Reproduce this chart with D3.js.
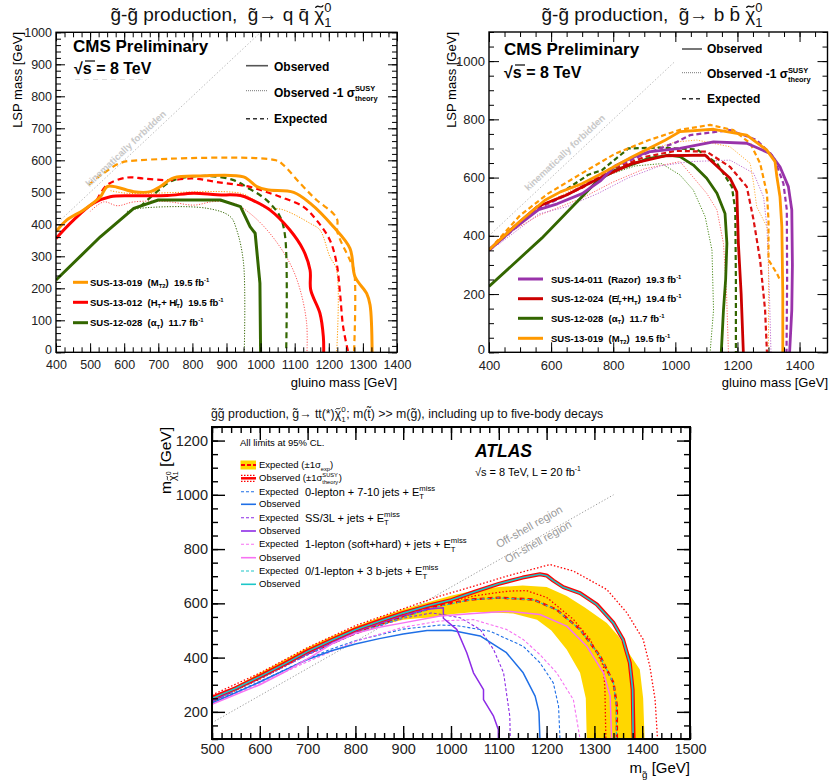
<!DOCTYPE html>
<html><head><meta charset="utf-8">
<script src="https://cdn.jsdelivr.net/npm/d3@7"></script>
<style>
body{margin:0;background:#fff}
svg{display:block}
text{font-family:"Liberation Sans",Arial,Helvetica,sans-serif;white-space:pre}
</style>
</head><body>
<svg id="c" width="830" height="784"></svg>
<script>
// ================= DATA =================
// Panel A: gluino -> q qbar chi
const aXTicks = [400,500,600,700,800,900,1000,1100,1200,1300,1400];
const aYTicks = [0,100,200,300,400,500,600,700,800,900,1000];
const aOrangeObs = [[400,377],[432,414],[481,445],[530,486],[550,518],[579,516],[628,502],[677,502],[706,518],[745,545],[823,551],[950,548],[989,518],[1019,508],[1097,500],[1145,466],[1213,393],[1262,325],[1277,236],[1311,184],[1321,148],[1327,0]];
const aOrangeExp = [[495,523],[540,560],[590,592],[640,600],[1045,600],[1067,585],[1116,528],[1164,476],[1213,434],[1225,413],[1225,377],[1262,288],[1274,257],[1274,0]];
const aOrangeM1 = [[560,505],[608,497],[941,497],[980,476],[1008,455],[1067,445],[1145,403],[1174,382],[1203,299],[1223,257],[1223,0]];
const aRedObs = [[400,356],[452,414],[510,466],[559,486],[628,489],[726,490],[804,497],[872,492],[941,490],[975,476],[1027,445],[1086,382],[1125,320],[1145,257],[1147,195],[1174,122],[1184,49],[1185,0]];
const aRedExp = [[520,476],[550,523],[608,546],[657,543],[726,538],[804,543],[872,532],[941,522],[969,517],[1057,486],[1125,455],[1164,413],[1203,351],[1223,278],[1233,184],[1242,80],[1257,0]];
const aRedM1 = [[500,440],[540,470],[580,458],[628,470],[726,471],[804,460],[862,471],[921,466],[969,434],[1027,372],[1086,278],[1116,195],[1135,91],[1136,0]];
const aGreenObs = [[400,226],[530,361],[628,450],[700,476],[882,476],[941,455],[969,393],[984,372],[998,216],[1000,0]];
const aGreenExp = [[647,455],[696,502],[745,538],[843,551],[921,538],[969,510],[1000,490],[1027,466],[1057,424],[1072,361],[1075,0]];
const aGreenM1 = [[608,440],[647,450],[843,450],[911,424],[930,382],[950,278],[952,0]];
const aDiag = [[400,400],[1000,1000]];
const aLegend = ["SUS-13-019  (M","SUS-13-012  (H","SUS-12-028  ("];

// Panel B: gluino -> b bbar chi
const bXTicks = [400,600,800,1000,1200,1400];
const bYTicks = [0,200,400,600,800,1000];
const bPurpleObs = [[400,350],[480,425],[560,490],[620,510],[700,545],[760,590],[806,640],[860,668],[913,688],[1015,700],[1123,723],[1230,718],[1305,683],[1337,637],[1364,569],[1375,489],[1377,300],[1375,145],[1368,0]];
const bPurpleExp = [[400,350],[560,495],[650,540],[700,570],[800,635],[900,680],[1000,720],[1048,746],[1176,763],[1262,729],[1316,672],[1348,580],[1359,489],[1360,250],[1358,0]];
const bPurpleM1 = [[430,370],[560,475],[650,500],[750,545],[850,600],[950,640],[1050,655],[1176,660],[1252,615],[1284,534],[1295,431],[1303,200],[1308,0]];
const bRedObs = [[400,352],[480,430],[555,500],[650,540],[750,595],[860,648],[970,675],[1096,677],[1176,598],[1198,551],[1203,374],[1212,200],[1219,0]];
const bRedExp = [[400,352],[560,500],[700,565],[800,630],[900,670],[1000,692],[1101,689],[1176,637],[1230,569],[1252,454],[1273,317],[1289,145],[1295,0]];
const bRedM1 = [[480,420],[560,470],[700,530],[800,585],[900,630],[1015,655],[1101,546],[1134,489],[1155,374],[1165,200],[1171,0]];
const bGreenObs = [[400,226],[570,392],[750,590],[806,625],[913,665],[980,677],[1015,672],[1058,643],[1101,598],[1134,546],[1160,477],[1166,374],[1162,250],[1155,145],[1148,0]];
const bGreenExp = [[650,560],[720,610],[763,625],[849,700],[950,703],[1069,697],[1134,649],[1182,569],[1193,489],[1195,250],[1195,0]];
const bGreenM1 = [[760,600],[870,640],[956,648],[1015,609],[1058,557],[1096,466],[1118,351],[1123,145],[1112,0]];
const bOrangeObs = [[400,352],[500,450],[580,522],[630,551],[699,579],[763,614],[860,671],[967,728],[1015,758],[1123,766],[1230,746],[1294,695],[1321,655],[1327,603],[1337,534],[1343,431],[1346,200],[1346,0]];
const bOrangeExp = [[420,375],[500,470],[590,545],[698,614],[806,682],[913,728],[1015,764],[1112,781],[1187,763],[1241,718],[1273,649],[1295,546],[1300,454],[1300,317],[1327,271],[1337,248]];
const bOrangeM1 = [[560,500],[700,575],[800,640],[900,690],[1000,722],[1069,729],[1176,706],[1241,649],[1252,580],[1262,500],[1284,454],[1300,420],[1300,0]];
const bDiag = [[400,400],[1000,1000]];

// Panel C: ATLAS gluino -> t t chi
const cXTicks = [500,600,700,800,900,1000,1100,1200,1300,1400,1500];
const cYTicks = [200,400,600,800,1000,1200];
const cBandUpper = [[500,250],[550,295],[600,343],[650,390],[700,437],[750,478],[800,515],[850,548],[900,578],[950,603],[1000,628],[1050,648],[1100,660],[1150,666],[1200,660],[1242,627],[1280,585],[1326,528],[1350,480],[1367,430],[1395,356],[1402,250],[1405,100]];
const cBandLower = [[1284,100],[1282,250],[1270,344],[1242,430],[1210,500],[1180,540],[1130,563],[1050,568],[1000,560],[960,548],[930,545],[900,540],[850,518],[800,490],[750,455],[700,412],[650,370],[600,322],[550,278],[500,234]];
const cObs = [[500,252],[550,288],[600,331],[650,376],[700,424],[750,465],[800,504],[850,535],[900,565],[950,590],[1000,612],[1050,643],[1100,672],[1150,695],[1186,707],[1200,703],[1214,684],[1235,660],[1270,638],[1305,596],[1340,528],[1360,467],[1374,381],[1380,282],[1382,100]];
const cObsUp = [[500,262],[600,343],[700,437],[800,518],[900,580],[977,627],[1047,663],[1116,700],[1207,743],[1256,719],[1326,651],[1368,565],[1402,467],[1416,368],[1427,245],[1432,100]];
const cObsDn = [[500,242],[600,320],[700,412],[800,490],[900,550],[977,598],[1050,628],[1120,645],[1158,647],[1200,622],[1256,541],[1291,467],[1319,368],[1322,282],[1324,100]];
const cExp = [[500,240],[600,325],[700,415],[800,490],[900,553],[977,593],[1040,614],[1100,621],[1172,614],[1221,577],[1270,504],[1312,405],[1340,307],[1347,221],[1347,100]];
const cCyanObs = [[500,250],[550,287],[600,330],[650,375],[700,423],[750,464],[800,503],[850,534],[900,564],[950,590],[1000,612],[1050,643],[1100,672],[1150,695],[1186,707],[1200,702],[1214,684],[1235,659],[1270,637],[1305,595],[1340,527],[1360,466],[1374,380],[1380,282],[1381,100]];
const cCyanExp = [[500,238],[600,323],[700,413],[800,489],[900,548],[977,590],[1040,613],[1100,620],[1172,613],[1221,576],[1270,503],[1312,404],[1340,306],[1346,221],[1346,100]];
const cBlueObs = [[500,232],[600,310],[650,352],[700,393],[750,425],[800,450],[850,470],[900,487],[950,500],[1000,501],[1061,480],[1116,418],[1151,344],[1176,258],[1184,200],[1186,100]];
const cBlueExp = [[500,234],[600,312],[700,395],[750,432],[800,462],[900,505],[977,520],[1012,518],[1082,497],[1151,442],[1186,381],[1214,307],[1225,221],[1228,100]];
const cPurpleObs = [[500,240],[600,326],[700,416],[800,496],[900,556],[950,578],[984,584],[984,545],[1012,504],[1033,418],[1047,344],[1068,282],[1068,245],[1089,184],[1099,135],[1099,100]];
const cPurpleExp = [[500,238],[600,322],[700,410],[800,488],[900,545],[960,565],[1019,547],[1061,504],[1089,430],[1110,344],[1116,270],[1123,184],[1124,100]];
const cPinkObs = [[500,228],[600,300],[650,345],[700,395],[750,450],[800,490],[850,512],[900,528],[977,553],[1047,563],[1116,571],[1186,559],[1242,516],[1284,442],[1319,344],[1333,258],[1336,100]];
const cPinkExp = [[500,230],[600,305],[700,385],[800,460],[900,512],[977,535],[1047,540],[1116,504],[1151,467],[1186,411],[1221,344],[1256,245],[1270,100]];
const cDiag = [[500,160],[1340,1000]];
const cGroups = ["0-lepton + 7-10 jets + E","SS/3L + jets + E","1-lepton (soft+hard) + jets + E","0/1-lepton + 3 b-jets + E"];

// ================= HELPERS =================
const FONT = '"Liberation Sans", Arial, Helvetica, sans-serif';
const svg = d3.select('#c');
svg.append('rect').attr('width',830).attr('height',784).attr('fill','#fff');

function makePanel(id,o){
  const x = d3.scaleLinear().domain(o.xd).range(o.xr);
  const y = d3.scaleLinear().domain(o.yd).range(o.yr);
  const g = svg.append('g');
  const [L,R]=o.xr, [B,T]=o.yr;
  svg.append('clipPath').attr('id',id).append('rect').attr('x',L).attr('y',T).attr('width',R-L).attr('height',B-T);
  const plot = g.append('g').attr('clip-path',`url(#${id})`);
  return {x,y,g,plot,L,R,B,T,o};
}
function drawAxes(P){
  const {x,y,g,L,R,B,T,o}=P;
  const ax=g.append('g');
  const none=()=> '';
  const add=(axis,tr)=>{const s=ax.append('g').attr('transform',tr).call(axis);s.select('.domain').remove();
    s.selectAll('line').attr('stroke','#000').attr('stroke-width',o.tw);
    s.selectAll('text').attr('font-size',o.fs).attr('font-family',FONT).attr('fill','#222');return s;};
  add(d3.axisBottom(x).tickValues(o.xMaj).tickSize(-o.maj).tickPadding(o.xpad).tickFormat(d3.format('d')),`translate(0,${B})`);
  add(d3.axisBottom(x).tickValues(o.xMin).tickSize(-o.min).tickFormat(none),`translate(0,${B})`);
  add(d3.axisTop(x).tickValues(o.xMaj).tickSize(-o.maj).tickFormat(none),`translate(0,${T})`);
  add(d3.axisTop(x).tickValues(o.xMin).tickSize(-o.min).tickFormat(none),`translate(0,${T})`);
  const yl=add(d3.axisLeft(y).tickValues(o.yMaj).tickSize(-o.maj).tickPadding(o.ypad).tickFormat(d3.format('d')),`translate(${L},0)`);
  if(o.zeroDy!=null) yl.selectAll('.tick').filter(d=>d===0).select('text').attr('dy',o.zeroDy);
  add(d3.axisLeft(y).tickValues(o.yMin).tickSize(-o.min).tickFormat(none),`translate(${L},0)`);
  add(d3.axisRight(y).tickValues(o.yMaj).tickSize(-o.maj).tickFormat(none),`translate(${R},0)`);
  add(d3.axisRight(y).tickValues(o.yMin).tickSize(-o.min).tickFormat(none),`translate(${R},0)`);
  g.append('rect').attr('x',L).attr('y',T).attr('width',R-L).attr('height',B-T).attr('fill','none').attr('stroke','#000').attr('stroke-width',o.fw);
}
function curve(P,data,color,width,dash,smooth){
  const line=d3.line().x(d=>P.x(d[0])).y(d=>P.y(d[1])).curve(smooth?d3.curveCatmullRom.alpha(0.5):d3.curveLinear);
  const p=P.plot.append('path').datum(data).attr('d',line).attr('fill','none').attr('stroke',color)
    .attr('stroke-width',width).attr('stroke-linejoin','round');
  if(dash) p.attr('stroke-dasharray',dash);
  return p;
}
// rich text. parts: string (normal) or {t, s:scale, b:baseline offset (em, +down), tl:tilde, stack:[sup,sub], up, dn}
const SUP = t=>({t,s:0.62,b:-0.42});
const SUB = t=>({t,s:0.62,b:0.28});
function rich(g,x,y,parts,size,attrs){
  const t=g.append('text').attr('x',x).attr('y',y).attr('font-size',size);
  if(attrs) Object.entries(attrs).forEach(([k,v])=>t.attr(k,v));
  let cur=0,pend=0;const tildes=[];
  const put=(s,sz,b)=>{const ts=t.append('tspan').attr('font-size',sz).attr('dy',b-cur).text(s);if(pend)ts.attr('dx',pend);pend=0;cur=b;return ts;};
  parts.forEach(p=>{
    if(typeof p==='string'){put(p,size,0);return;}
    const sz=size*(p.s||1), b=size*(p.b||0);
    if(p.stack){
      const a=put(p.stack[0],sz,b+size*(p.up!=null?p.up:-0.45));
      const w1=a.node().getComputedTextLength();
      const c=put(p.stack[1],sz,b+size*(p.dn!=null?p.dn:0.32));
      c.attr('dx',-w1);
      const w2=c.node().getComputedTextLength();
      pend=Math.max(0,w1-w2)+0.5;
    } else {
      const a=put(p.t,sz,b);
      if(p.tl) tildes.push([a,sz]);
    }
  });
  tildes.forEach(([a,sz])=>{
    const n=a.node(); const st=n.getStartPositionOfChar(0); const ex=n.getExtentOfChar(0);
    const cx=ex.x+ex.width/2, cy=st.y-sz*0.76, tw=ex.width*0.72, am=sz*0.045;
    const pth=g.append('path').attr('d',`M${cx-tw/2},${cy+am} C${cx-tw/4},${cy-3*am} ${cx+tw/4},${cy+3*am} ${cx+tw/2},${cy-am}`)
      .attr('fill','none').attr('stroke',t.attr('fill')||'#000').attr('stroke-width',Math.max(0.8,sz*0.07)).attr('stroke-linecap','round');
    if(t.attr('transform')) pth.attr('transform',t.attr('transform'));
  });
  return t;
}
function range(a,b,s){return d3.range(a,b+0.001,s);}
const CHI = (sz)=>[{t:'\u03c7',tl:true},{stack:['0','1'],s:sz||0.68}];

// ================= PANEL A =================
const CA={orange:'#ff9900',red:'#ff0000',green:'#336600'};
const PA=makePanel('clipA',{xd:[400,1400],xr:[56,397],yd:[0,1000],yr:[352.3,32.3],
  xMaj:aXTicks,xMin:range(400,1400,25),yMaj:aYTicks,yMin:range(0,1000,20),maj:9,min:5,tw:1,fw:1.4,fs:12.5,xpad:8,ypad:4,zeroDy:'0.12em'});
curve(PA,aDiag,'#bdbdbd',1,'1.5,2');
curve(PA,aGreenM1,CA.green,1,'1.2,1.5',true);
curve(PA,aRedM1,'#ff5555',1,'1.2,1.5',true);
curve(PA,aOrangeM1,CA.orange,1,'1.2,1.5',true);
curve(PA,aGreenExp,CA.green,2.2,'6,4',true);
curve(PA,aRedExp,CA.red,2.2,'6,4',true);
curve(PA,aOrangeExp,CA.orange,2.2,'6,4',true);
curve(PA,aGreenObs,CA.green,3,null,false);
curve(PA,aRedObs,CA.red,3,null,true);
curve(PA,aOrangeObs,CA.orange,3,null,true);
drawAxes(PA);
{
  const g=PA.g;
  const ang=Math.atan2(PA.y(1000)-PA.y(400),PA.x(1000)-PA.x(400))*180/Math.PI;
  g.append('text').attr('transform',`translate(128,151) rotate(${ang})`).attr('text-anchor','middle')
    .attr('font-size',9.5).attr('font-weight','bold').attr('fill','#c8c8c8').text('kinematically forbidden');
  rich(g,221,21,["g\u0303-g\u0303 production,  g\u0303\u2192 q q\u0304 "].concat(CHI()),19,{'text-anchor':'middle','fill':'#111'});
  g.append('text').attr('x',73).attr('y',52).attr('font-size',17).attr('font-weight','bold').text('CMS Preliminary');
  g.append('text').attr('x',74).attr('y',74).attr('font-size',16).attr('font-weight','bold').text('\u221as = 8 TeV');
  g.append('line').attr('x1',85).attr('x2',95).attr('y1',61).attr('y2',61).attr('stroke','#000').attr('stroke-width',1.2);
  g.append('line').attr('x1',75).attr('x2',145).attr('y1',79.5).attr('y2',79.5).attr('stroke','#ddd').attr('stroke-width',1).attr('stroke-dasharray','5,4');
  g.append('line').attr('x1',246).attr('x2',268).attr('y1',65.7).attr('y2',65.7).attr('stroke','#555').attr('stroke-width',1.6);
  g.append('text').attr('x',274).attr('y',70.7).attr('font-size',12).attr('font-weight','bold').text('Observed');
  g.append('line').attr('x1',246).attr('x2',268).attr('y1',90.7).attr('y2',90.7).attr('stroke','#777').attr('stroke-width',1).attr('stroke-dasharray','1,1');
  rich(g,274,96.7,["Observed -1 \u03c3",{stack:["SUSY","theory"],s:0.62}],12,{'font-weight':'bold'});
  g.append('line').attr('x1',246).attr('x2',268).attr('y1',118.7).attr('y2',118.7).attr('stroke','#333').attr('stroke-width',1.4).attr('stroke-dasharray','4,3');
  g.append('text').attr('x',274).attr('y',123).attr('font-size',12).attr('font-weight','bold').text('Expected');
  const ys=[282.3,302.3,322.7], cols=[CA.orange,CA.red,CA.green];
  ys.forEach((yy,i)=>g.append('line').attr('x1',73).attr('x2',88).attr('y1',yy).attr('y2',yy).attr('stroke',cols[i]).attr('stroke-width',3));
  rich(g,90,285.5,[aLegend[0],SUB("T2"),")  19.5 fb",SUP("-1")],9.5,{'font-weight':'bold'});
  rich(g,90,305.5,[aLegend[1],SUB("T"),"+ H\u0338",SUB("T"),")  19.5 fb",SUP("-1")],9.5,{'font-weight':'bold'});
  rich(g,90,326,[aLegend[2]+"\u03b1",SUB("T"),")  11.7 fb",SUP("-1")],9.5,{'font-weight':'bold'});
  g.append('text').attr('transform','translate(22,32) rotate(-90)').attr('text-anchor','end').attr('font-size',13).text('LSP mass [GeV]');
  g.append('text').attr('x',397).attr('y',387).attr('text-anchor','end').attr('font-size',13).text('gluino mass [GeV]');
}

// ================= PANEL B =================
const CB={orange:'#ff9900',red:'#cc0000',green:'#336600',purple:'#9933aa'};
const PB=makePanel('clipB',{xd:[400,1490],xr:[489,827.5],yd:[0,1100],yr:[352.3,32],
  xMaj:bXTicks,xMin:range(400,1450,50),yMaj:bYTicks,yMin:range(0,1100,50),maj:10,min:5,tw:1,fw:1.4,fs:13,xpad:8,ypad:4,zeroDy:'0.12em'});
curve(PB,bDiag,'#bdbdbd',1,'1.5,2');
curve(PB,bGreenM1,'#4a8a1a',1,'1.2,1.5');
curve(PB,bRedM1,'#ff6666',1,'1.2,1.5');
curve(PB,bPurpleM1,'#c070d0',1,'1.2,1.5');
curve(PB,bOrangeM1,'#ffb040',1,'1.2,1.5');
curve(PB,bGreenExp,CB.green,2.2,'5,3');
curve(PB,bRedExp,'#dd1111',2.2,'5,3');
curve(PB,bPurpleExp,CB.purple,2.2,'5,3');
curve(PB,bOrangeExp,CB.orange,2.2,'5,3');
curve(PB,bGreenObs,CB.green,2.8);
curve(PB,bRedObs,CB.red,2.8);
curve(PB,bPurpleObs,CB.purple,2.8);
curve(PB,bOrangeObs,CB.orange,2.8);
drawAxes(PB);
{
  const g=PB.g;
  const ang=Math.atan2(PB.y(1000)-PB.y(400),PB.x(1000)-PB.x(400))*180/Math.PI;
  g.append('text').attr('transform',`translate(567,155) rotate(${ang})`).attr('text-anchor','middle')
    .attr('font-size',9.5).attr('font-weight','bold').attr('fill','#c8c8c8').text('kinematically forbidden');
  rich(g,652,21,["g\u0303-g\u0303 production,  g\u0303\u2192 b b\u0304 "].concat(CHI()),19,{'text-anchor':'middle','fill':'#111'});
  g.append('text').attr('x',504).attr('y',55).attr('font-size',17).attr('font-weight','bold').text('CMS Preliminary');
  g.append('text').attr('x',504).attr('y',78).attr('font-size',16).attr('font-weight','bold').text('\u221as = 8 TeV');
  g.append('line').attr('x1',515).attr('x2',525).attr('y1',65).attr('y2',65).attr('stroke','#000').attr('stroke-width',1.2);
  g.append('line').attr('x1',682).attr('x2',702).attr('y1',49).attr('y2',49).attr('stroke','#555').attr('stroke-width',1.6);
  g.append('text').attr('x',707).attr('y',53).attr('font-size',12).attr('font-weight','bold').text('Observed');
  g.append('line').attr('x1',682).attr('x2',702).attr('y1',72.7).attr('y2',72.7).attr('stroke','#777').attr('stroke-width',1).attr('stroke-dasharray','1,1');
  rich(g,707,78,["Observed -1 \u03c3",{stack:["SUSY","theory"],s:0.62}],12,{'font-weight':'bold'});
  g.append('line').attr('x1',682).attr('x2',702).attr('y1',98.7).attr('y2',98.7).attr('stroke','#333').attr('stroke-width',1.4).attr('stroke-dasharray','4,3');
  g.append('text').attr('x',707).attr('y',103).attr('font-size',12).attr('font-weight','bold').text('Expected');
  const ys=[279,298.7,318.3,338.3], cols=[CB.purple,CB.red,CB.green,CB.orange];
  ys.forEach((yy,i)=>g.append('line').attr('x1',518).attr('x2',543).attr('y1',yy).attr('y2',yy).attr('stroke',cols[i]).attr('stroke-width',3));
  rich(g,551,282.5,["SUS-14-011  (Razor)  19.3 fb",SUP("-1")],9.5,{'font-weight':'bold'});
  rich(g,551,302.2,["SUS-12-024  (E\u0338",SUB("T"),"+H",SUB("T"),")  19.4 fb",SUP("-1")],9.5,{'font-weight':'bold'});
  rich(g,551,321.8,["SUS-12-028  (\u03b1",SUB("T"),")  11.7 fb",SUP("-1")],9.5,{'font-weight':'bold'});
  rich(g,551,341.8,["SUS-13-019  (M",SUB("T2"),")  19.5 fb",SUP("-1")],9.5,{'font-weight':'bold'});
  g.append('text').attr('transform','translate(456,32) rotate(-90)').attr('text-anchor','end').attr('font-size',13).text('LSP mass [GeV]');
  g.append('text').attr('x',828).attr('y',387).attr('text-anchor','end').attr('font-size',13).text('gluino mass [GeV]');
}

// ================= PANEL C =================
const CC={yellow:'#ffd700',red:'#ff0000',blue:'#1f6fe6',purple:'#8d2be6',pink:'#f772f2',cyan:'#1cc6c8'};
const PC=makePanel('clipC',{xd:[500,1500],xr:[212,690],yd:[100,1250],yr:[739,427],
  xMaj:cXTicks,xMin:range(500,1500,20),yMaj:cYTicks,yMin:range(100,1250,50),maj:13,min:6,tw:1.4,fw:2,fs:14.5,xpad:5,ypad:4});
PC.plot.append('path').datum(cBandUpper.concat(cBandLower))
  .attr('d',d3.line().x(d=>PC.x(d[0])).y(d=>PC.y(d[1])).curve(d3.curveLinearClosed))
  .attr('fill',CC.yellow).attr('stroke','none');
curve(PC,cDiag,'#999',1,'1.2,2');
curve(PC,cObsUp,CC.red,1.3,'1.5,2');
curve(PC,cObsDn,CC.red,1.3,'1.5,2');
curve(PC,cExp,CC.red,2.4,'5,3');
curve(PC,cBlueExp,CC.blue,1.1,'3,2');
curve(PC,cPurpleExp,CC.purple,1.1,'3,2');
curve(PC,cPinkExp,CC.pink,1.1,'3,2');
curve(PC,cCyanExp,CC.cyan,1.1,'3,2');
curve(PC,cBlueObs,CC.blue,1.5);
curve(PC,cPurpleObs,CC.purple,1.5);
curve(PC,cPinkObs,CC.pink,1.5);
curve(PC,cObs,CC.red,4);
curve(PC,cCyanObs,CC.cyan,1.6);
drawAxes(PC);
{
  const g=PC.g;
  rich(g,211,418,["g\u0303g\u0303 production, g\u0303\u2192 tt(*)"].concat(CHI(0.66)).concat(["; m(t\u0303) >> m(g\u0303), including up to five-body decays"]),12.3,{'fill':'#111'});
  g.append('text').attr('x',240).attr('y',446).attr('font-size',9.5).text('All limits at 95% CL.');
  const rows=[465,478.3,491.7,504.3,517.7,531,544.3,557.7,571,584.3];
  g.append('rect').attr('x',240.5).attr('y',460.5).attr('width',15.5).attr('height',9).attr('fill',CC.yellow);
  g.append('line').attr('x1',241).attr('x2',256).attr('y1',rows[0]).attr('y2',rows[0]).attr('stroke',CC.red).attr('stroke-width',1.8).attr('stroke-dasharray','4,2');
  rich(g,259,rows[0]+3,["Expected (\u00b11\u03c3",{t:"exp",s:0.6,b:0.3},")"],9.5);
  g.append('line').attr('x1',241).attr('x2',256).attr('y1',rows[1]).attr('y2',rows[1]).attr('stroke',CC.red).attr('stroke-width',2.5);
  [rows[1]-3,rows[1]+3].forEach(yy=>g.append('line').attr('x1',241).attr('x2',256).attr('y1',yy).attr('y2',yy).attr('stroke',CC.red).attr('stroke-width',1.2).attr('stroke-dasharray','1.5,1.5'));
  rich(g,259,rows[1]+3,["Observed (\u00b11\u03c3",{stack:["SUSY","theory"],s:0.6},")"],9.5);
  const cols=[CC.blue,CC.purple,CC.pink,CC.cyan];
  cols.forEach((c,i)=>{
    const ye=rows[2+2*i], yo=rows[3+2*i];
    g.append('line').attr('x1',241).attr('x2',256).attr('y1',ye).attr('y2',ye).attr('stroke',c).attr('stroke-width',1.1).attr('stroke-dasharray','3,2');
    g.append('text').attr('x',259).attr('y',ye+3).attr('font-size',9.5).text('Expected');
    g.append('line').attr('x1',241).attr('x2',256).attr('y1',yo).attr('y2',yo).attr('stroke',c).attr('stroke-width',1.6);
    g.append('text').attr('x',259).attr('y',yo+3).attr('font-size',9.5).text('Observed');
    rich(g,305,ye+4,[cGroups[i],{stack:["miss","T"],s:0.7}],11);
  });
  g.append('text').attr('x',475).attr('y',457).attr('font-size',17.5).attr('font-weight','bold').attr('font-style','italic').text('ATLAS');
  rich(g,475,476,["\u221as = 8 TeV, L = 20 fb",SUP("-1")],11);
  const ang=Math.atan2(PC.y(1000)-PC.y(160),PC.x(1340)-PC.x(500))*180/Math.PI;
  g.append('text').attr('transform',`translate(531,530) rotate(${ang})`).attr('text-anchor','middle').attr('font-size',11).attr('fill','#999').text('Off-shell region');
  g.append('text').attr('transform',`translate(540,545) rotate(${ang})`).attr('text-anchor','middle').attr('font-size',11).attr('fill','#999').text('On-shell region');
  rich(g,0,0,["m",{t:'\u03c7',s:0.7,b:0.3,tl:true},{stack:['0','1'],s:0.45,b:0.3,up:-0.3,dn:0.15}," [GeV]"],15.5,{'transform':'translate(171,427) rotate(-90)','text-anchor':'end'});
  rich(g,690,773,["m",{t:"g\u0303",s:0.65,b:0.3}," [GeV]"],15,{'text-anchor':'end'});
}
</script>
</body></html>
